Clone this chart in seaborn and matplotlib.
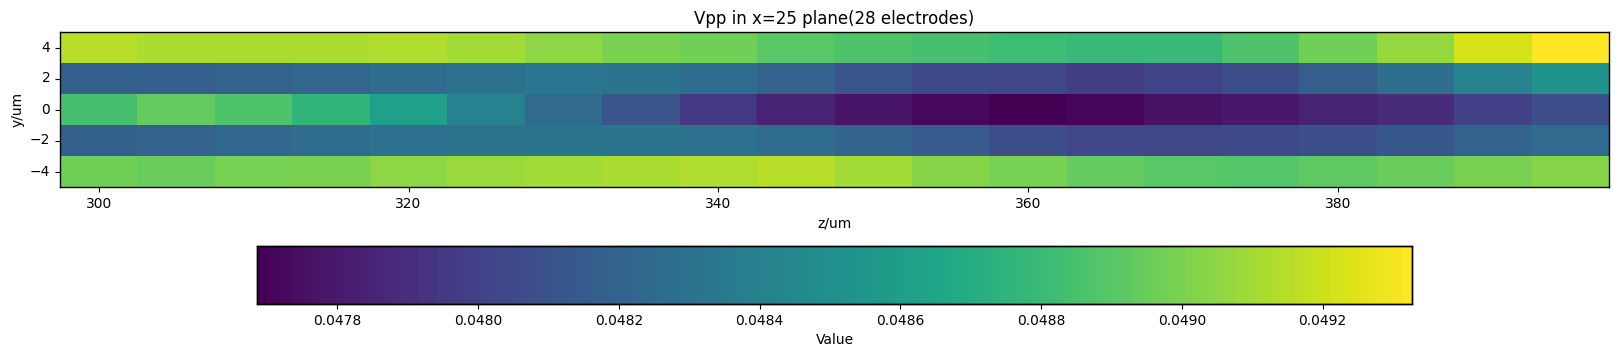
import numpy as np
import pandas as pd
import matplotlib
matplotlib.use('Agg')
import matplotlib.pyplot as plt
import seaborn as sns

# grid positions (um)
zPos = [300, 305, 310, 315, 320, 325, 330, 335, 340, 345,
        350, 355, 360, 365, 370, 375, 380, 385, 390, 395]
yPos = [4, 2, 0, -2, -4]

# Vpp per row (top row y=4 first)
vppY4  = [0.04915, 0.04912, 0.04912, 0.04912, 0.04913, 0.04910, 0.04905, 0.04900, 0.04897, 0.04890,
          0.04887, 0.04884, 0.04881, 0.04879, 0.04879, 0.04887, 0.04897, 0.04907, 0.04923, 0.049327]
vppY2  = [0.04818, 0.04818, 0.04820, 0.04823, 0.04826, 0.04830, 0.04833, 0.04831, 0.04826, 0.04820,
          0.04812, 0.04805, 0.04803, 0.04798, 0.04801, 0.04807, 0.04817, 0.04828, 0.04841, 0.04853]
vppY0  = [0.04884, 0.04894, 0.04887, 0.04876, 0.04861, 0.04841, 0.04825, 0.04812, 0.04795, 0.04784,
          0.04777, 0.04772, 0.047686, 0.04771, 0.04776, 0.04779, 0.04784, 0.04789, 0.04800, 0.04808]
vppYm2 = [0.04818, 0.04820, 0.04823, 0.04826, 0.04830, 0.04831, 0.04831, 0.04831, 0.04830, 0.04826,
          0.04821, 0.04815, 0.04808, 0.04803, 0.04803, 0.04805, 0.04808, 0.04813, 0.04820, 0.04825]
vppYm4 = [0.04897, 0.04895, 0.04899, 0.04900, 0.04905, 0.04908, 0.04910, 0.04912, 0.04913, 0.04915,
          0.04910, 0.04903, 0.04899, 0.04894, 0.04890, 0.04889, 0.04892, 0.04895, 0.04900, 0.04903]

xTicks = [300, 320, 340, 360, 380]
yTicks = [4, 2, 0, -2, -4]
cbTicks = [0.0478, 0.0480, 0.0482, 0.0484, 0.0486, 0.0488, 0.0490, 0.0492]

if __name__ == "__main__":

    grid = pd.DataFrame([vppY4, vppY2, vppY0, vppYm2, vppYm4], index=yPos, columns=zPos)

    fig = plt.figure(figsize=(16.19, 3.56), dpi=100)
    W, H = 1619., 356.
    ax = fig.add_axes([60/W, 1-187/H, (1609-60)/W, (187-32)/H])
    cax = fig.add_axes([257/W, 1-304/H, (1412-257)/W, (304-246)/H])

    sns.heatmap(grid, cmap='viridis', ax=ax, cbar_ax=cax,
                cbar_kws={'orientation': 'horizontal', 'label': 'Value'})

    dz = zPos[1]-zPos[0]
    ax.set_xticks([(t-zPos[0])/dz + 0.5 for t in xTicks])
    ax.set_xticklabels([str(t) for t in xTicks], rotation=0)
    ax.set_yticks([yPos.index(t) + 0.5 for t in yTicks])
    ax.set_yticklabels([str(t).replace('-', '\u2212') for t in yTicks], rotation=0)
    for s in ax.spines.values():
        s.set_visible(True)
        s.set_linewidth(1.0)
        s.set_color('black')
    ax.set_xlabel('z/um')
    ax.set_ylabel('y/um')
    ax.set_title('Vpp in x=25 plane(28 electrodes)')

    cax.xaxis.set_ticks(cbTicks)
    cax.xaxis.set_ticklabels(['{:.4f}'.format(t) for t in cbTicks])
    for s in cax.spines.values():
        s.set_visible(True)
        s.set_linewidth(1.0)
        s.set_color('black')

    plt.savefig('out.png', dpi=100)
